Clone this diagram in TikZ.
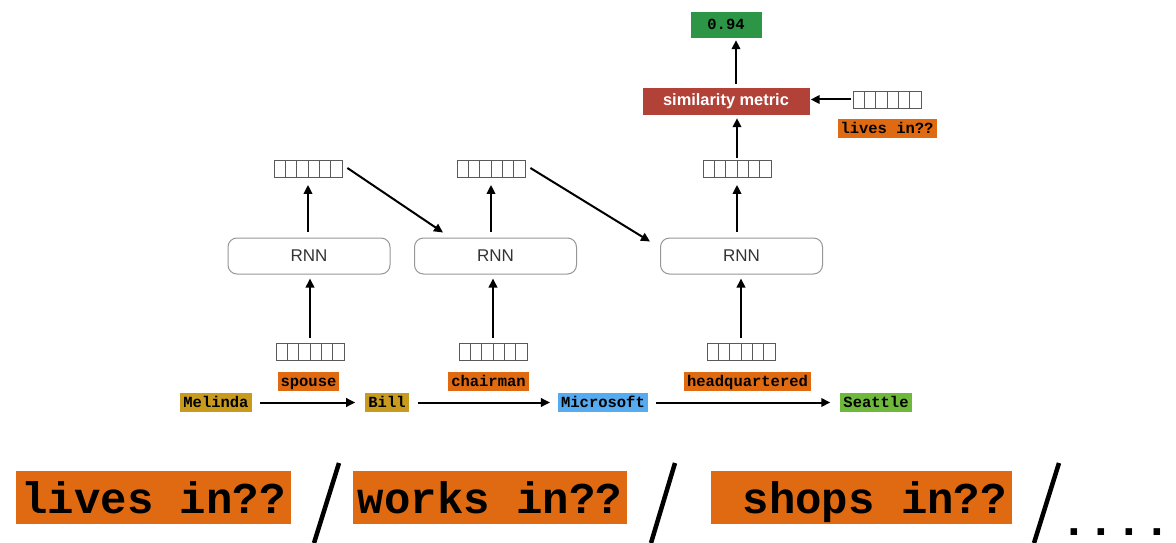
\documentclass[tikz,border=0pt]{standalone}
\usepackage{fontspec}
\setmainfont{Liberation Sans}
\newfontfamily\monof{Liberation Mono}
\usetikzlibrary{arrows.meta,calc}
\definecolor{orangeC}{RGB}{224,106,18}
\definecolor{goldC}{RGB}{200,155,30}
\definecolor{blueC}{RGB}{85,170,240}
\definecolor{greenC}{RGB}{110,185,60}
\definecolor{greenD}{RGB}{45,150,70}
\definecolor{redC}{RGB}{178,66,56}
\definecolor{vecgray}{RGB}{90,90,90}
\definecolor{rnngray}{RGB}{150,150,150}
\tikzset{
  tag/.style={font=\monof\bfseries\fontsize{15.5}{16}\selectfont, inner xsep=3pt, inner ysep=0pt,
    minimum height=19pt, text height=11pt, text depth=1pt},
  rel/.style={tag, fill=orangeC},
  vecbox/.style={draw=vecgray, line width=0.8pt, minimum width=68pt, minimum height=17pt, inner sep=0pt,
    path picture={\foreach \k in {1,...,5}{\draw[vecgray,line width=0.8pt]
      ($(path picture bounding box.north west)!\k/6!(path picture bounding box.north east)$) --
      ($(path picture bounding box.south west)!\k/6!(path picture bounding box.south east)$);}}},
  rnnbox/.style={draw=rnngray, rounded corners=9pt, line width=1pt, minimum width=162pt, minimum height=36pt,
    font=\fontsize{17}{20}\selectfont, text=black!80},
  arr/.style={-{Triangle[length=9pt,width=8.5pt]}, line width=2pt},
  bigtag/.style={fill=orangeC, font=\monof\bfseries\fontsize{44}{44}\selectfont, inner xsep=5pt, inner ysep=0pt,
    minimum height=53pt, text height=34pt, text depth=3pt},
  sep/.style={line width=4.5pt}
}
\begin{document}
\begin{tikzpicture}[x=1pt,y=-1pt]
\useasboundingbox (0,0) rectangle (1176,543);
% top
\node[tag, fill=greenD, minimum width=71pt, minimum height=26pt] (g) at (726,25) {0.94};
\node[fill=redC, text=white, font=\bfseries\fontsize{16.4}{18}\selectfont, minimum width=167pt, minimum height=27pt, inner sep=0pt] (sim) at (726,101.5) {similarity metric};
\node[vecbox] (vq) at (887,99.5) {};
\node[rel] (lq) at (887,128.5) {lives in??};
% vectors
\node[vecbox] (v1) at (308,169) {};
\node[vecbox] (v2) at (491,169) {};
\node[vecbox] (v3) at (737,169) {};
% RNNs
\node[rnnbox] (R1) at (309,256) {RNN};
\node[rnnbox] (R2) at (495.5,256) {RNN};
\node[rnnbox] (R3) at (741.5,256) {RNN};
% bottom vectors
\node[vecbox] (b1) at (310,351.5) {};
\node[vecbox] (b2) at (493,351.5) {};
\node[vecbox] (b3) at (741,351.5) {};
% relations
\node[rel] (sp) at (308.5,381) {spouse};
\node[rel] (ch) at (488.5,381.5) {chairman};
\node[rel] (hq) at (747.5,381.5) {headquartered};
% entities
\node[tag, fill=goldC] (mel) at (216,402.5) {Melinda};
\node[tag, fill=goldC] (bill) at (387,402.5) {Bill};
\node[tag, fill=blueC] (ms) at (603,402.5) {Microsoft};
\node[tag, fill=greenC] (sea) at (876,402.5) {Seattle};
% arrows
\draw[arr] ($(b1.north)+(0,-5)$) -- ($(b1.north|-R1.south)+(0,4)$);
\draw[arr] ($(b2.north)+(0,-5)$) -- ($(b2.north|-R2.south)+(0,4)$);
\draw[arr] ($(b3.north)+(0,-5)$) -- ($(b3.north|-R3.south)+(0,4)$);
\draw[arr] ($(v1.south|-R1.north)+(0,-6)$) -- ($(v1.south)+(0,7)$);
\draw[arr] ($(v2.south|-R2.north)+(0,-6)$) -- ($(v2.south)+(0,7)$);
\draw[arr] ($(v3.south|-R3.north)+(0,-6)$) -- ($(v3.south)+(0,7)$);
\draw[arr] ($(v1.east)+(5,-1)$) -- ($(R2.north west)+(29,-5)$);
\draw[arr] ($(v2.east)+(5,-1)$) -- ($(R3.north west)+(-10,4)$);
\draw[arr] ($(v3.north)+(0,-2)$) -- ($(v3.north|-sim.south)+(0,3)$);
\draw[arr] ($(v3.north|-sim.north)+(-1,-4)$) -- ($(v3.north|-g.south)+(-1,2)$);
\draw[arr] ($(vq.west)+(-2,0)$) -- ($(sim.east|-vq.west)+(1,0)$);
\draw[arr] ($(mel.east)+(8,0)$) -- ($(bill.west)+(-10,0)$);
\draw[arr] ($(bill.east)+(9,0)$) -- ($(ms.west)+(-8,0)$);
\draw[arr] ($(ms.east)+(8,0)$) -- ($(sea.west)+(-10,0)$);
% bottom question row
\node[bigtag] (q1) at (153.5,497.5) {lives in??};
\node[bigtag] (q2) at (490,497.5) {works in??};
\node[bigtag] (q3) at (861.5,497.5) {\ shops in??};
\coordinate (s1a) at (339,463); \coordinate (s1b) at (314,543);
\coordinate (s2a) at (675,463); \coordinate (s2b) at (651,543);
\coordinate (s3a) at (1059,463); \coordinate (s3b) at (1034,543);
\draw[sep] (s1a) -- (s1b);
\draw[sep] (s2a) -- (s2b);
\draw[sep] (s3a) -- (s3b);
\node[anchor=base west, inner sep=0pt, font=\monof\bfseries\fontsize{46}{46}\selectfont] (dots) at (1060,535) {....};
\end{tikzpicture}
\end{document}
